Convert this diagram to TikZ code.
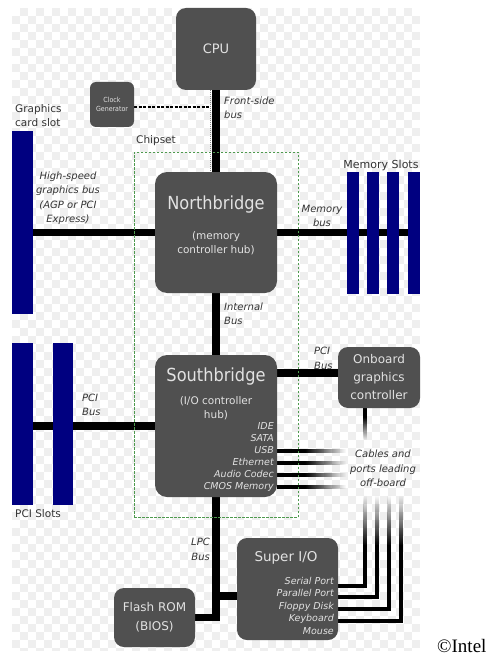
\documentclass[tikz,border=0pt]{standalone}
\usepackage{fontspec}
\setmainfont{DejaVu Sans}
\newfontfamily\condfont{DejaVu Sans Condensed}
\newfontfamily\serifont{Liberation Serif}
\usetikzlibrary{fadings}
\definecolor{boxgray}{HTML}{505050}
\definecolor{boxtext}{HTML}{E2E2E2}
\definecolor{labeltext}{HTML}{333333}
\definecolor{slotblue}{HTML}{000080}
\definecolor{checker}{HTML}{EFEFEF}
\definecolor{chipgreen}{HTML}{4F9A4F}
\definecolor{dotgray}{HTML}{888888}
\tikzfading[name=fadeR, left color=transparent!0, right color=transparent!100]
\tikzfading[name=fadeD, top color=transparent!0, bottom color=transparent!100]
\tikzfading[name=fadeU, top color=transparent!100, bottom color=transparent!0]
\pgfdeclarelayer{bg}
\pgfdeclarelayer{wires}
\pgfsetlayers{bg,wires,main}
\begin{document}
\begin{tikzpicture}[x=1pt,y=-1pt,
  chip/.style={fill=boxgray, rounded corners=10pt, inner sep=0pt, outer sep=0pt, anchor=north west},
  slot/.style={fill=slotblue, inner sep=0pt, outer sep=0pt, anchor=north west},
  bus/.style={line width=7.5pt, black},
  cable/.style={line width=4pt, black},
  boxtxt/.style={text=boxtext, inner sep=0pt, align=center},
  lbl/.style={text=labeltext, inner sep=0pt, font=\fontsize{10.5}{14}\selectfont},
  ilbl/.style={text=labeltext, inner sep=0pt, font=\fontsize{10}{14.5}\selectfont\itshape},
]
\useasboundingbox (0,0) rectangle (490,658);
\begin{pgfonlayer}{bg}
  \fill[white] (0,0) rectangle (490,658);
  \begin{scope}
    \clip (12,8) rectangle (420,650);
    \foreach \i in {0,...,50} {
      \foreach \j in {0,...,80} {
        \pgfmathtruncatemacro\odd{mod(\i+\j,2)}
        \ifnum\odd=1
          \fill[checker] (12+\i*8,8+\j*8) rectangle +(8,8);
        \fi
      }
    }
  \end{scope}
\end{pgfonlayer}

% chips
\node[chip, minimum width=80pt, minimum height=82pt] (cpu) at (176,8) {};
\node[chip, rounded corners=6pt, minimum width=44pt, minimum height=45pt] (clk) at (90,82) {};
\node[chip, rounded corners=12pt, minimum width=122pt, minimum height=121pt] (nb) at (155,172) {};
\node[chip, rounded corners=12pt, minimum width=122pt, minimum height=142pt] (sb) at (155,355) {};
\node[chip, minimum width=82pt, minimum height=61pt] (ogc) at (338,347) {};
\node[chip, minimum width=101pt, minimum height=102pt] (sio) at (237,538) {};
\node[chip, minimum width=81pt, minimum height=59pt] (flash) at (114,588) {};

% slots
\node[slot, minimum width=21pt, minimum height=183pt] (gslot) at (12,131) {};
\node[slot, minimum width=21pt, minimum height=162pt] (pci1) at (12,343) {};
\node[slot, minimum width=20pt, minimum height=162pt] (pci2) at (53,343) {};
\foreach \n/\x in {1/347,2/366.5,3/387,4/408}
  \node[slot, minimum width=12pt, minimum height=122pt] (mem\n) at (\x,172) {};

% wires
\begin{pgfonlayer}{wires}
  \draw[bus] (cpu.south) -- (nb.north);
  \draw[bus] (nb.south) -- (sb.north);
  \draw[bus] (nb.west) -- (nb.west -| gslot.east);
  \draw[bus] (nb.east) -- (nb.east -| mem4.center);
  \draw[bus] (sb.west) -- (sb.west -| pci1.east);
  \coordinate (pcir) at (277,373);
  \draw[bus] (sb.east |- pcir) -- (ogc.west |- pcir);
  \draw[bus] (sb.south) |- (flash.east);
  \coordinate (lpcj) at (216,596);
  \draw[bus] (lpcj) -- (sio.west |- lpcj);
  % clock
  \coordinate (clkj) at (210.5,107);
  \draw[black, line width=1.2pt, dash pattern=on 3pt off 1.5pt] (clk.east |- clkj) -- (clkj);
  \draw[dotgray, line width=1.6pt, dash pattern=on 1pt off 1pt] (cpu.south -| clkj) -- (nb.north -| clkj);
  % southbridge cables
  \foreach \y in {451,463,475,487} {
    \fill[black] (277,\y-2) rectangle (305,\y+2);
    \fill[black, path fading=fadeR] (305,\y-2) rectangle (346,\y+2);
  }
  % onboard graphics output
  \fill[black] (363,408) rectangle (367,417);
  \fill[black, path fading=fadeD] (363,417) rectangle (367,440);
  % super I/O cables
  \foreach \y/\x in {586/365,597/377,609/389,621/401} {
    \draw[cable] (337,\y) -| (\x,545);
    \fill[black, path fading=fadeU] (\x-2,495) rectangle (\x+2,545.5);
  }
\end{pgfonlayer}

% chipset boundary
\node[draw=chipgreen, line width=0.8pt, dash pattern=on 2.5pt off 1.5pt, inner sep=0pt, anchor=north west, minimum width=164pt, minimum height=365pt] (chipset) at (134,152) {};

% texts
\node[boxtxt, font=\fontsize{13}{15}\selectfont] (cput) at (cpu.center) {CPU};
\node[boxtxt, font=\condfont\fontsize{7}{9}\selectfont] (clkt) at (clk.center) {Clock\\Generator};
\node[ilbl, anchor=west, align=left] (fsbl) at (224,108) {Front-side\\bus};
\node[lbl, anchor=west, align=left] (gcl) at (15,116) {Graphics\\card slot};
\node[lbl, anchor=west] (chipl) at (136,141) {Chipset};
\node[lbl, font=\fontsize{11}{14}\selectfont] (meml) at (381,165) {Memory Slots};
\node[ilbl, align=center] (hsl) at (68,198) {High-speed\\graphics bus\\(AGP or PCI\\Express)};
\node[ilbl, align=center] (mbl) at (322,216) {Memory\\bus};
\node[boxtxt, font=\condfont\fontsize{18}{20}\selectfont] (nbt) at (216,205) {Northbridge};
\node[boxtxt, font=\fontsize{10.5}{14}\selectfont] (nbs) at (216,243) {(memory\\controller hub)};
\node[ilbl, anchor=west, align=left] (ibl) at (224,314) {Internal\\Bus};
\node[boxtxt, font=\condfont\fontsize{18}{20}\selectfont] (sbt) at (216,377) {Southbridge};
\node[boxtxt, font=\fontsize{10.5}{14}\selectfont] (sbs) at (216,408) {(I/O controller\\hub)};
\node[boxtxt, anchor=east, align=right, font=\fontsize{9.5}{12}\selectfont\itshape] (sbl) at (274,457) {IDE\\SATA\\USB\\Ethernet\\Audio Codec\\CMOS Memory};
\node[ilbl, anchor=west, align=left] (pcil) at (82,405) {PCI\\Bus};
\node[lbl, anchor=west] (pcisl) at (15,514) {PCI Slots};
\node[ilbl, anchor=west, align=left] (pcirl) at (314,358.5) {PCI\\Bus};
\node[boxtxt, font=\fontsize{12}{18}\selectfont] (ogct) at (ogc.center) {Onboard\\graphics\\controller};
\node[ilbl, align=center] (cabl) at (383,468.5) {Cables and\\ports leading\\off-board};
\node[ilbl, anchor=east, align=right] (lpcl) at (210,549.5) {LPC\\Bus};
\node[boxtxt, font=\fontsize{12}{19}\selectfont] (flasht) at (flash.center) {Flash ROM\\(BIOS)};
\node[boxtxt, font=\fontsize{13.5}{15}\selectfont] (siot) at (286,558) {Super I/O};
\node[boxtxt, anchor=east, align=right, font=\fontsize{9.5}{12.5}\selectfont\itshape] (siol) at (334,605.5) {Serial Port\\Parallel Port\\Floppy Disk\\Keyboard\\Mouse};
\node[font=\serifont\fontsize{19}{20}\selectfont, anchor=base west, inner sep=0pt] (intel) at (437,652) {©Intel};
\end{tikzpicture}
\end{document}
